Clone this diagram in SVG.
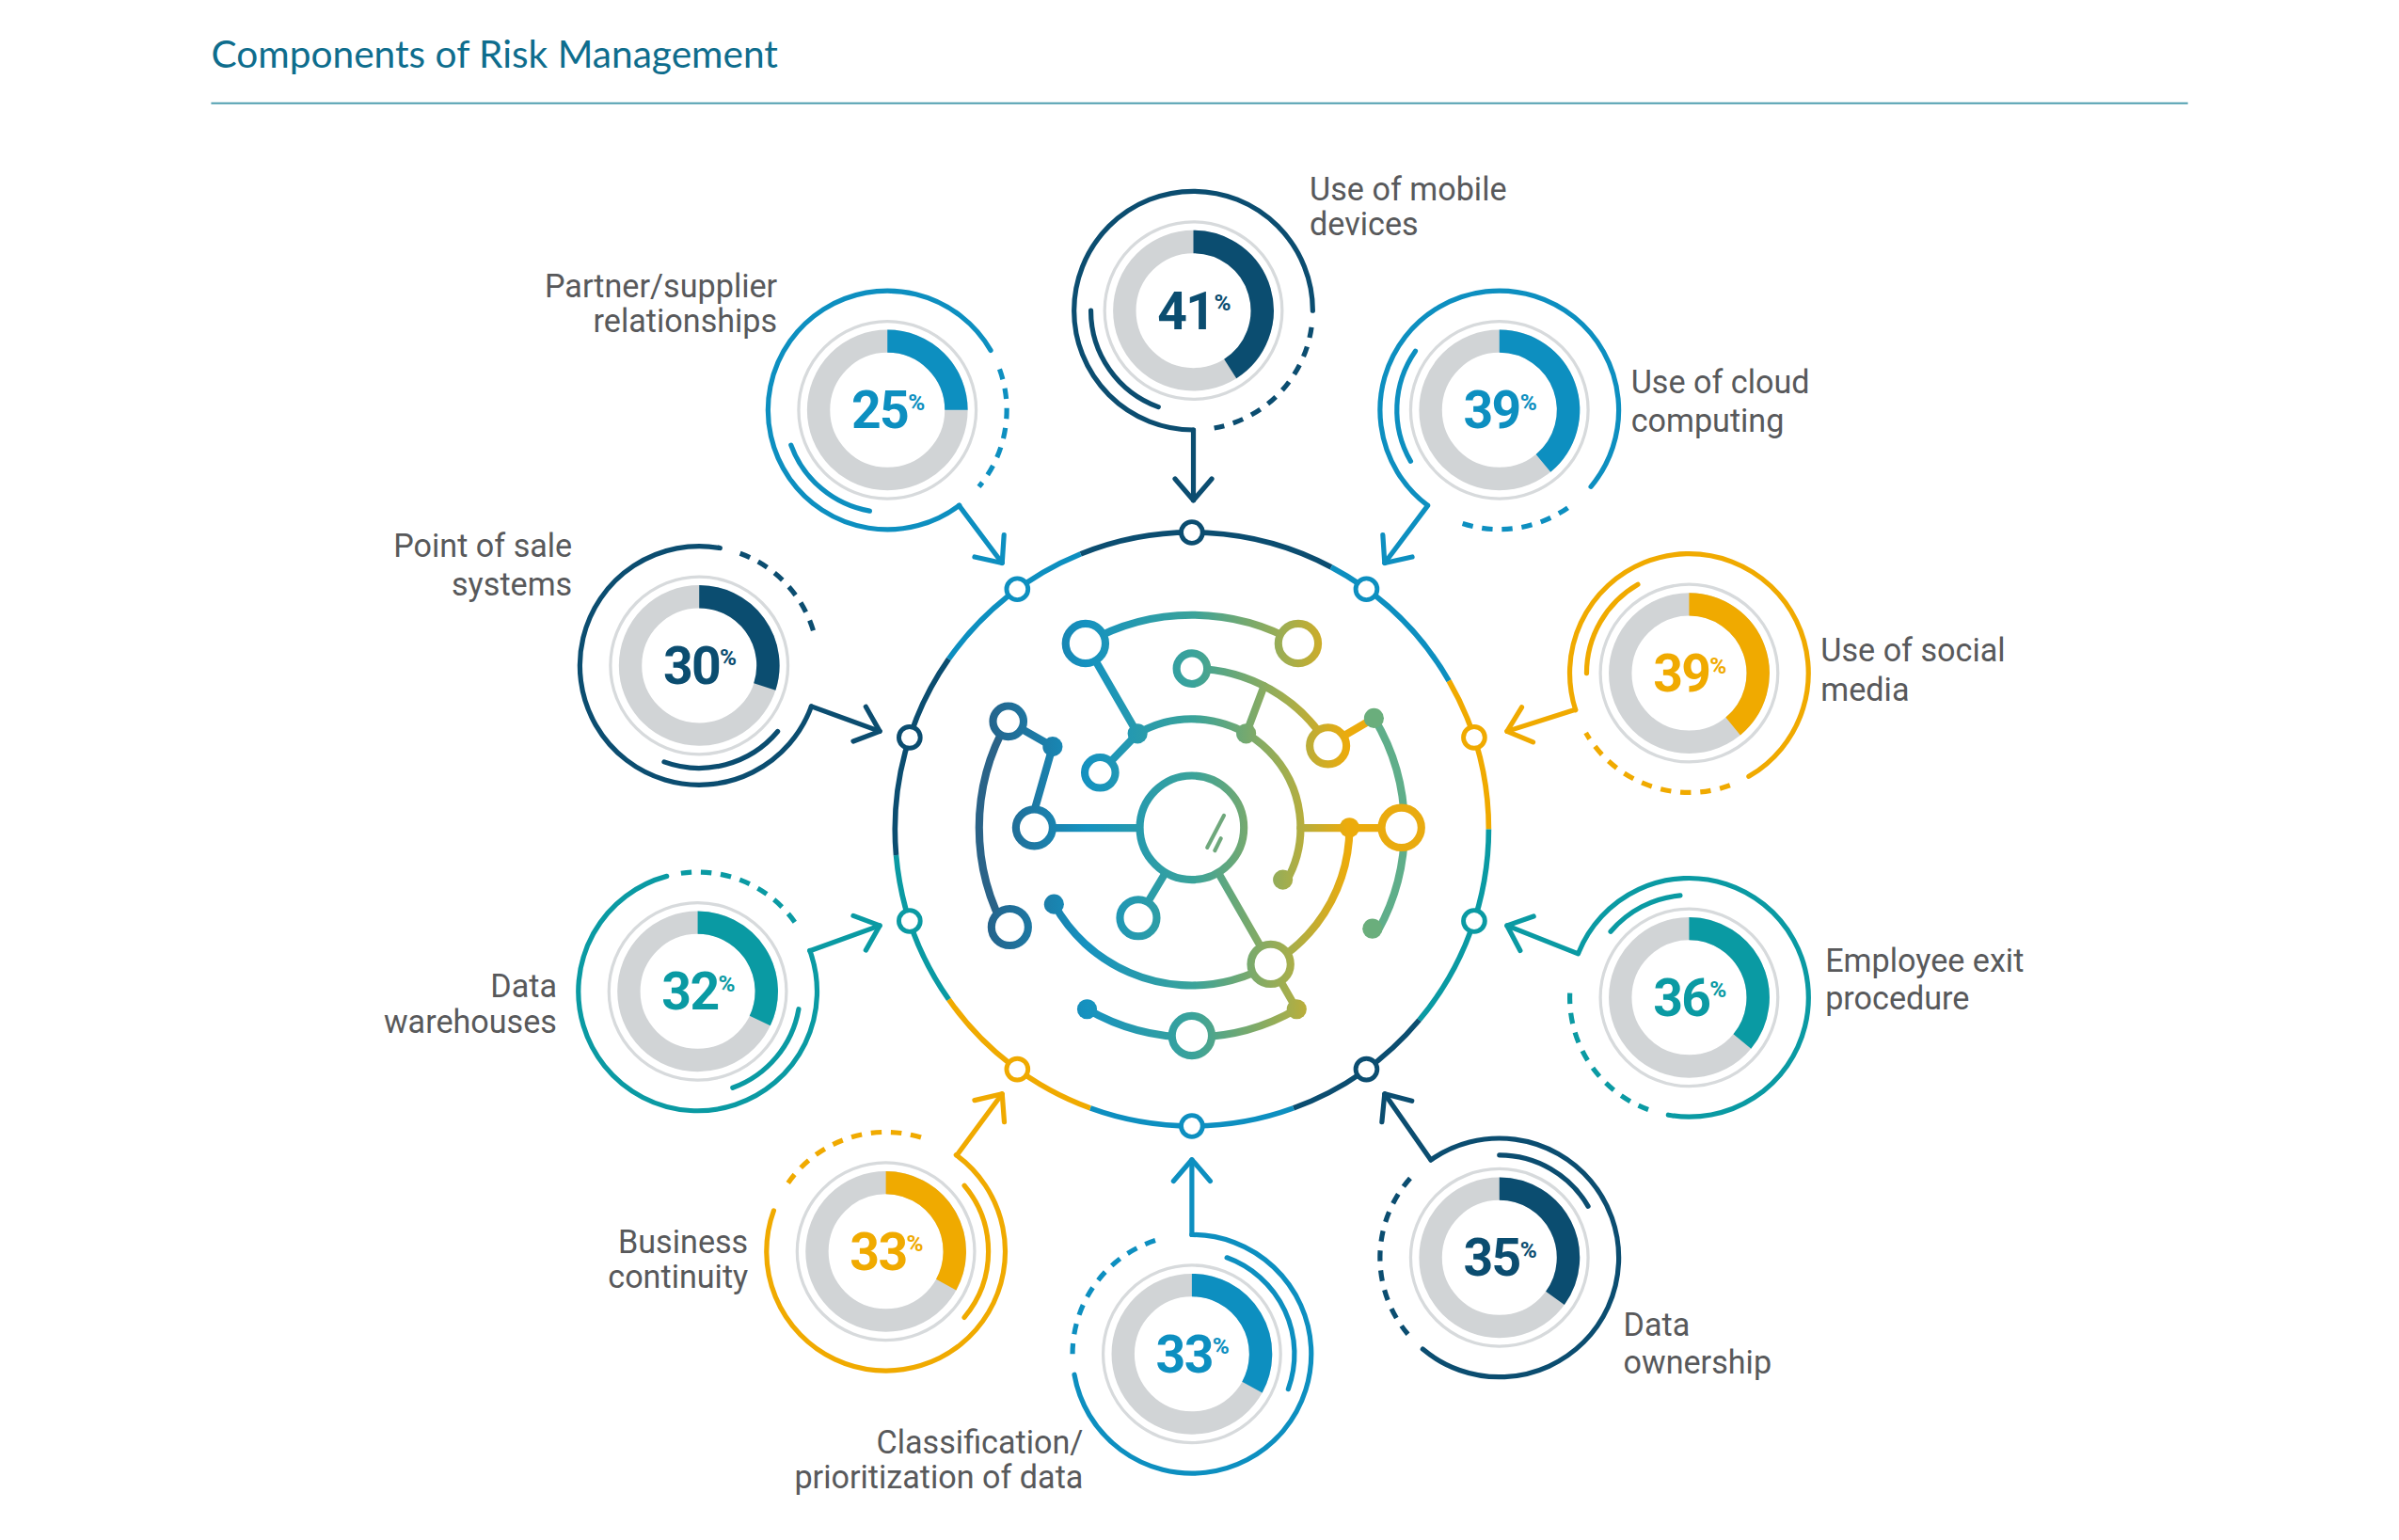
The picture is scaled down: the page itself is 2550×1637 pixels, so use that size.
<svg xmlns="http://www.w3.org/2000/svg" width="2550" height="1637" viewBox="0 0 2550 1637">
<style>
.lbl{font-family:Roboto,"Liberation Sans",sans-serif;font-size:21px;fill:#58595b}
.num{font-family:Roboto,"Liberation Sans",sans-serif;font-size:34px;font-weight:700;text-anchor:middle;letter-spacing:-1px}
.pct{font-size:15px}
.band{fill:none;stroke:#d1d4d6;stroke-width:15}
.outl{fill:none;stroke:#d7dadc;stroke-width:2}
.o{fill:none;stroke-width:3.2;stroke-linecap:round}
.d{fill:none;stroke-width:3.2;stroke-dasharray:7 6}
.ah{fill:none;stroke-width:3.2;stroke-linecap:round;stroke-linejoin:round}
.navy{stroke:#0b4d70}.blue{stroke:#0d8fc0}.teal{stroke:#0a9aa3}.yel{stroke:#f0aa00}
.fnavy{fill:#0b4d70}.fblue{fill:#0d8fc0}.fteal{fill:#0a9aa3}.fyel{fill:#f0aa00}
.ring{fill:none;stroke-width:3.5}
.rn{fill:#fff;stroke-width:3}
.net{fill:none;stroke:url(#g);stroke-width:5;stroke-linecap:round}
.nn{fill:#fff;stroke:url(#g);stroke-width:5}
.dot{fill:url(#g)}
</style>
<defs>
<linearGradient id="g" gradientUnits="userSpaceOnUse" x1="640" y1="0" x2="920" y2="0">
<stop offset="0" stop-color="#255f87"/><stop offset="0.25" stop-color="#1592c0"/><stop offset="0.5" stop-color="#3aa39a"/><stop offset="0.72" stop-color="#a3ae4e"/><stop offset="0.86" stop-color="#ecab0c"/><stop offset="1" stop-color="#e9ab10"/>
</linearGradient>
</defs>
<rect width="2550" height="1637" fill="#fff"/>
<g transform="scale(1.6263)">
<g id="title">
<text x="138" y="44" style="font-family:Lato,'Liberation Sans',sans-serif;font-size:25px;fill:#0e6d8d">Components of Risk Management</text>
<line x1="138" y1="67.5" x2="1430" y2="67.5" stroke="#4f9fb0" stroke-width="1.2"/>
</g>

<g id="connectors">
<path class="ring navy" d="M706.3 362.1 A194 194 0 0 1 870.1 370.7"/>
<path class="ring blue" d="M870.1 370.7 A194 194 0 0 1 947 445"/>
<path class="ring yel" d="M947 445 A194 194 0 0 1 973 542"/>
<path class="ring teal" d="M973 542 A194 194 0 0 1 927.6 666.7"/>
<path class="ring navy" d="M927.6 666.7 A194 194 0 0 1 845.4 724.3"/>
<path class="ring blue" d="M845.4 724.3 A194 194 0 0 1 712.6 724.3"/>
<path class="ring yel" d="M712.6 724.3 A194 194 0 0 1 620.1 653.3"/>
<path class="ring teal" d="M620.1 653.3 A194 194 0 0 1 585.7 558.9"/>
<path class="ring navy" d="M585.7 558.9 A194 194 0 0 1 620.1 430.7"/>
<path class="ring blue" d="M620.1 430.7 A194 194 0 0 1 706.3 362.1"/>
<circle class="rn navy" cx="779" cy="348" r="7"/>
<circle class="rn blue" cx="664.9" cy="385.1" r="7"/>
<circle class="rn blue" cx="893.1" cy="385.1" r="7"/>
<circle class="rn navy" cx="594.5" cy="482" r="7"/>
<circle class="rn yel" cx="963.5" cy="482" r="7"/>
<circle class="rn teal" cx="963.5" cy="602" r="7"/>
<circle class="rn teal" cx="594.5" cy="602" r="7"/>
<circle class="rn yel" cx="664.9" cy="698.9" r="7"/>
<circle class="rn navy" cx="893.1" cy="698.9" r="7"/>
<circle class="rn blue" cx="779" cy="736" r="7"/>
</g>

<g id="network">
<path class="net" d="M709.5 420.6 A139 139 0 0 1 848.5 420.6"/>
<path class="net" d="M779 437 A104 104 0 0 1 868.1 487.4"/>
<path class="net" d="M743.5 479.5 A71 71 0 0 1 840.5 576.5"/>
<path fill="none" stroke="#2a6388" stroke-width="5" d="M658.6 610.5 A139 139 0 0 1 658.6 471.5"/>
<path class="net" d="M882 541 A103 103 0 0 1 688.9 591"/>
<path fill="none" stroke="#5fae8a" stroke-width="5" d="M898.1 469.4 A139 139 0 0 1 900.6 608.4"/>
<path class="net" d="M847.5 659.6 A137 137 0 0 1 710.5 659.6"/>
<line class="net" x1="709.5" y1="420.6" x2="743.5" y2="479.5"/>
<line class="net" x1="743.5" y1="479.5" x2="719" y2="505"/>
<line class="net" x1="814.5" y1="479.5" x2="826.2" y2="448.3"/>
<line class="net" x1="868" y1="487" x2="898" y2="469.4"/>
<line class="net" x1="659" y1="471.5" x2="688" y2="488"/>
<line class="net" x1="688" y1="488" x2="676" y2="530"/>
<line class="net" x1="688" y1="541.2" x2="746" y2="541.2"/>
<line class="net" x1="850" y1="541.2" x2="905" y2="541.2"/>
<line class="net" x1="762" y1="570" x2="744" y2="600"/>
<line class="net" x1="796" y1="570" x2="847.5" y2="659.6"/>
<circle class="nn" cx="779" cy="541" r="34" stroke-width="6"/>
<line x1="800" y1="533" x2="789" y2="554" stroke="#6fa87c" stroke-width="2.5" stroke-linecap="round"/>
<line x1="798" y1="548" x2="794" y2="556" stroke="#6fa87c" stroke-width="2.5" stroke-linecap="round"/>
<circle class="nn" cx="709.5" cy="420.6" r="13"/>
<circle class="nn" cx="848.5" cy="420.6" r="13"/>
<circle class="nn" cx="779" cy="437" r="10"/>
<circle class="nn" cx="868" cy="487.5" r="12"/>
<circle class="nn" cx="659" cy="471.5" r="10"/>
<circle class="nn" cx="660" cy="606" r="12"/>
<circle class="nn" cx="676" cy="541" r="12"/>
<circle class="nn" cx="719" cy="505" r="10"/>
<circle class="nn" cx="744" cy="600" r="12"/>
<circle class="nn" cx="830.5" cy="630.2" r="13"/>
<circle class="nn" cx="916" cy="541" r="13" stroke="#3aa39a"/>
<circle class="nn" cx="779" cy="677" r="13"/>
<circle class="dot" cx="743.5" cy="479.5" r="6.5"/>
<circle class="dot" cx="814.5" cy="479.5" r="6.5"/>
<circle class="dot" cx="838.5" cy="575" r="6.5"/>
<circle class="dot" cx="688" cy="488" r="6.5"/>
<circle class="dot" cx="688.9" cy="591" r="6.5"/>
<circle class="dot" cx="882" cy="541" r="6.5"/>
<circle fill="#6aae7c" cx="898" cy="469.4" r="6.5"/>
<circle fill="#6aae7c" cx="897" cy="607" r="6.5"/>
<circle class="dot" cx="710.5" cy="659.6" r="6.5"/>
<circle class="dot" cx="847.5" cy="659.6" r="6.5"/>
</g>

<g id="w41" transform="translate(780,203)">
<circle class="outl" r="58"/><circle class="band" r="45"/>
<path class="fnone navy" fill="none" stroke-width="15" d="M0 -45 A45 45 0 0 1 24.1 38"/>
<path class="o navy" d="M0 78 A78 78 0 1 1 78 0"/>
<path class="d navy" d="M77.2 10.9 A78 78 0 0 1 13.6 76.8"/>
<path class="o navy" d="M-22.9 63 A67 67 0 0 1 -67 0"/>
<line class="o navy" x1="0" y1="78" x2="0" y2="124"/>
<polyline class="ah navy" points="-12 110 0 124 12 110"/>
<text class="num fnavy" x="0" y="12">41<tspan class="pct" dy="-12">%</tspan></text>
</g>
<g id="w25" transform="translate(580,268)">
<circle class="outl" r="58"/><circle class="band" r="45"/>
<path class="blue" fill="none" stroke-width="15" d="M0 -45 A45 45 0 0 1 45 0"/>
<path class="o blue" d="M47 62.3 A78 78 0 1 1 67.5 -39"/>
<path class="d blue" d="M73.3 -26.7 A78 78 0 0 1 59.8 50.1"/>
<path class="o blue" d="M-11.6 66 A67 67 0 0 1 -63 22.9"/>
<line class="o blue" x1="46.8" y1="62.4" x2="75" y2="100"/>
<polyline class="ah blue" points="76.2 81.6 75 100 57 96"/>
<text class="num fblue" x="0" y="12">25<tspan class="pct" dy="-12">%</tspan></text>
</g>
<g id="w39c" transform="translate(980,268)">
<circle class="outl" r="58"/><circle class="band" r="45"/>
<path class="blue" fill="none" stroke-width="15" d="M0 -45 A45 45 0 0 1 28.7 34.7"/>
<path class="o blue" d="M-47 62.3 A78 78 0 1 1 59.8 50.1"/>
<path class="d blue" d="M44.7 63.9 A78 78 0 0 1 -26.7 73.3"/>
<path class="o blue" d="M-58 33.5 A67 67 0 0 1 -54.9 -38.5"/>
<line class="o blue" x1="-46.8" y1="62.4" x2="-75" y2="100"/>
<polyline class="ah blue" points="-57 96 -75 100 -76.2 81.6"/>
<text class="num fblue" x="0" y="12">39<tspan class="pct" dy="-12">%</tspan></text>
</g>
<g id="w30" transform="translate(457,435)">
<circle class="outl" r="58"/><circle class="band" r="45"/>
<path class="navy" fill="none" stroke-width="15" d="M0 -45 A45 45 0 0 1 42.8 13.9"/>
<path class="o navy" d="M73.3 26.7 A78 78 0 1 1 13.6 -76.8"/>
<path class="d navy" d="M26.7 -73.3 A78 78 0 0 1 75.3 -20.2"/>
<path class="o navy" d="M51.3 43.1 A67 67 0 0 1 -22.9 63"/>
<line class="o navy" x1="73.3" y1="26.7" x2="118" y2="43"/>
<polyline class="ah navy" points="108.9 26.9 118 43 100.7 49.5"/>
<text class="num fnavy" x="0" y="12">30<tspan class="pct" dy="-12">%</tspan></text>
</g>
<g id="w39s" transform="translate(1104,440)">
<circle class="outl" r="58"/><circle class="band" r="45"/>
<path class="yel" fill="none" stroke-width="15" d="M0 -45 A45 45 0 0 1 28.7 34.7"/>
<path class="o yel" d="M-74.2 24.1 A78 78 0 1 1 39 67.5"/>
<path class="d yel" d="M26.7 73.3 A78 78 0 0 1 -67.5 39"/>
<path class="o yel" d="M-67 0 A67 67 0 0 1 -33.5 -58"/>
<line class="o yel" x1="-74.3" y1="23.8" x2="-119" y2="38"/>
<polyline class="ah yel" points="-109.4 22.3 -119 38 -102 45.1"/>
<text class="num fyel" x="0" y="12">39<tspan class="pct" dy="-12">%</tspan></text>
</g>
<g id="w32" transform="translate(456,648)">
<circle class="outl" r="58"/><circle class="band" r="45"/>
<path class="teal" fill="none" stroke-width="15" d="M0 -45 A45 45 0 0 1 40.7 19.2"/>
<path class="o teal" d="M73.3 -26.7 A78 78 0 1 1 -20.2 -75.3"/>
<path class="d teal" d="M-10.9 -77.2 A78 78 0 0 1 63.9 -44.7"/>
<path class="o teal" d="M66 11.6 A67 67 0 0 1 22.9 63"/>
<line class="o teal" x1="73.3" y1="-26.5" x2="119" y2="-43"/>
<polyline class="ah teal" points="101.7 -49.5 119 -43 109.9 -26.9"/>
<text class="num fteal" x="0" y="12">32<tspan class="pct" dy="-12">%</tspan></text>
</g>
<g id="w36" transform="translate(1104,652)">
<circle class="outl" r="58"/><circle class="band" r="45"/>
<path class="teal" fill="none" stroke-width="15" d="M0 -45 A45 45 0 0 1 34.7 28.7"/>
<path class="o teal" d="M-72.3 -29.2 A78 78 0 1 1 -13.6 76.8"/>
<path class="d teal" d="M-26.7 73.3 A78 78 0 0 1 -77.7 -6.8"/>
<path class="o teal" d="M-51.3 -43.1 A67 67 0 0 1 -5.8 -66.7"/>
<line class="o teal" x1="-72.5" y1="-28.6" x2="-119" y2="-47"/>
<polyline class="ah teal" points="-110.4 -30.7 -119 -47 -101.6 -53.1"/>
<text class="num fteal" x="0" y="12">36<tspan class="pct" dy="-12">%</tspan></text>
</g>
<g id="w33b" transform="translate(579,818)">
<circle class="outl" r="58"/><circle class="band" r="45"/>
<path class="yel" fill="none" stroke-width="15" d="M0 -45 A45 45 0 0 1 39.4 21.7"/>
<path class="o yel" d="M45.9 -63.1 A78 78 0 1 1 -73.3 -26.7"/>
<path class="d yel" d="M-63.9 -44.8 A78 78 0 0 1 26.7 -73.3"/>
<path class="o yel" d="M51.3 -43.1 A67 67 0 0 1 51.3 43.1"/>
<line class="o yel" x1="46.3" y1="-62.8" x2="76" y2="-103"/>
<polyline class="ah yel" points="58 -98.8 76 -103 77.4 -84.6"/>
<text class="num fyel" x="0" y="12">33<tspan class="pct" dy="-12">%</tspan></text>
</g>
<g id="w33c" transform="translate(779,885)">
<circle class="outl" r="58"/><circle class="band" r="45"/>
<path class="blue" fill="none" stroke-width="15" d="M0 -45 A45 45 0 0 1 39.4 21.7"/>
<path class="o blue" d="M0 -78 A78 78 0 1 1 -76.8 13.5"/>
<path class="d blue" d="M-78 0 A78 78 0 0 1 -20.2 -75.3"/>
<path class="o blue" d="M22.9 -63 A67 67 0 0 1 63 22.9"/>
<line class="o blue" x1="0" y1="-78" x2="0" y2="-127"/>
<polyline class="ah blue" points="-12 -113 0 -127 12 -113"/>
<text class="num fblue" x="0" y="12">33<tspan class="pct" dy="-12">%</tspan></text>
</g>
<g id="w35" transform="translate(980,822)">
<circle class="outl" r="58"/><circle class="band" r="45"/>
<path class="navy" fill="none" stroke-width="15" d="M0 -45 A45 45 0 0 1 36.4 26.5"/>
<path class="o navy" d="M-44.7 -63.9 A78 78 0 1 1 -50.1 59.8"/>
<path class="d navy" d="M-59.8 50.1 A78 78 0 0 1 -58 -52.2"/>
<path class="o navy" d="M0 -67 A67 67 0 0 1 58 -33.5"/>
<line class="o navy" x1="-44.8" y1="-63.9" x2="-75" y2="-107"/>
<polyline class="ah navy" points="-57.2 -102.4 -75 -107 -76.8 -88.6"/>
<text class="num fnavy" x="0" y="12">35<tspan class="pct" dy="-12">%</tspan></text>
</g>

<g id="labels">
<text class="lbl" x="856" y="131">Use of mobile</text><text class="lbl" x="856" y="154">devices</text>
<text class="lbl" x="508" y="194" text-anchor="end">Partner/supplier</text><text class="lbl" x="508" y="217" text-anchor="end">relationships</text>
<text class="lbl" x="1066" y="257">Use of cloud</text><text class="lbl" x="1066" y="282">computing</text>
<text class="lbl" x="374" y="364" text-anchor="end">Point of sale</text><text class="lbl" x="374" y="389" text-anchor="end">systems</text>
<text class="lbl" x="1190" y="432">Use of social</text><text class="lbl" x="1190" y="458">media</text>
<text class="lbl" x="364" y="652" text-anchor="end">Data</text><text class="lbl" x="364" y="675" text-anchor="end">warehouses</text>
<text class="lbl" x="1193" y="635">Employee exit</text><text class="lbl" x="1193" y="660">procedure</text>
<text class="lbl" x="489" y="819" text-anchor="end">Business</text><text class="lbl" x="489" y="842" text-anchor="end">continuity</text>
<text class="lbl" x="708" y="950" text-anchor="end">Classification/</text><text class="lbl" x="708" y="973" text-anchor="end">prioritization of data</text>
<text class="lbl" x="1061" y="873">Data</text><text class="lbl" x="1061" y="898">ownership</text>
</g>
</g>
</svg>
